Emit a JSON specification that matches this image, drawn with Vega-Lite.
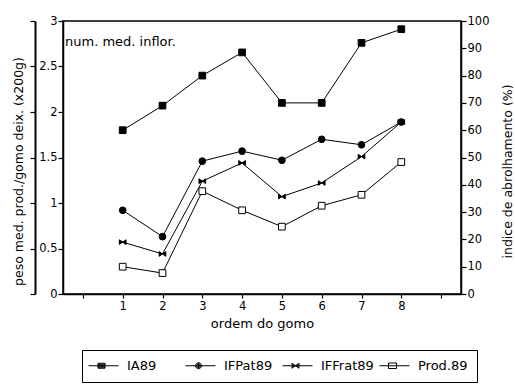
{
  "$schema": "https://vega.github.io/schema/vega-lite/v6.json",
  "width": 398,
  "height": 273,
  "autosize": {"type": "none"},
  "padding": {"left": 63, "top": 21, "right": 54, "bottom": 91},
  "background": "white",
  "config": {
    "view": {"stroke": "black", "strokeWidth": 1.5},
    "font": "DejaVu Sans",
    "axis": {
      "grid": false,
      "domainColor": "black",
      "domainWidth": 1.5,
      "tickColor": "black",
      "tickWidth": 1.2,
      "labelColor": "black",
      "labelFont": "DejaVu Sans",
      "labelFontSize": 11.5,
      "titleFont": "DejaVu Sans",
      "titleFontSize": 12.5,
      "titleFontWeight": "normal",
      "titleColor": "black"
    }
  },
  "data": {
    "values": [
      {"g": 1, "s": "IA89", "v": 60},
      {"g": 2, "s": "IA89", "v": 69},
      {"g": 3, "s": "IA89", "v": 80},
      {"g": 4, "s": "IA89", "v": 88.5},
      {"g": 5, "s": "IA89", "v": 70},
      {"g": 6, "s": "IA89", "v": 70},
      {"g": 7, "s": "IA89", "v": 92},
      {"g": 8, "s": "IA89", "v": 97},
      {"g": 1, "s": "IFPat89", "v": 0.92},
      {"g": 2, "s": "IFPat89", "v": 0.63},
      {"g": 3, "s": "IFPat89", "v": 1.46},
      {"g": 4, "s": "IFPat89", "v": 1.57},
      {"g": 5, "s": "IFPat89", "v": 1.47},
      {"g": 6, "s": "IFPat89", "v": 1.70},
      {"g": 7, "s": "IFPat89", "v": 1.64},
      {"g": 8, "s": "IFPat89", "v": 1.89},
      {"g": 1, "s": "IFFrat89", "v": 0.57},
      {"g": 2, "s": "IFFrat89", "v": 0.44},
      {"g": 3, "s": "IFFrat89", "v": 1.24},
      {"g": 4, "s": "IFFrat89", "v": 1.44},
      {"g": 5, "s": "IFFrat89", "v": 1.07},
      {"g": 6, "s": "IFFrat89", "v": 1.22},
      {"g": 7, "s": "IFFrat89", "v": 1.51},
      {"g": 8, "s": "IFFrat89", "v": 1.89},
      {"g": 1, "s": "Prod.89", "v": 0.30},
      {"g": 2, "s": "Prod.89", "v": 0.23},
      {"g": 3, "s": "Prod.89", "v": 1.13},
      {"g": 4, "s": "Prod.89", "v": 0.92},
      {"g": 5, "s": "Prod.89", "v": 0.74},
      {"g": 6, "s": "Prod.89", "v": 0.97},
      {"g": 7, "s": "Prod.89", "v": 1.09},
      {"g": 8, "s": "Prod.89", "v": 1.45}
    ]
  },
  "layer": [
    {
      "encoding": {
        "x": {
          "field": "g", "type": "quantitative",
          "scale": {"domain": [-0.5, 9.5], "nice": false, "zero": false},
          "axis": {
            "values": [0, 1, 2, 3, 4, 5, 6, 7, 8, 9],
            "labelExpr": "datum.value >= 1 && datum.value <= 8 ? datum.label : ''",
            "tickSize": 4, "labelPadding": 2, "title": "ordem do gomo", "titlePadding": 6, "titleFontSize": 13
          }
        },
        "y": {
          "field": "v", "type": "quantitative",
          "scale": {"domain": [0, 3], "nice": false},
          "axis": {
            "orient": "left",
            "values": [0, 0.5, 1, 1.5, 2, 2.5, 3],
            "format": "~g",
            "tickSize": 5, "labelPadding": 1,
            "title": "peso med. prod./gomo deix. (x200g)",
            "titleX": -45, "titleY": 150, "titleAngle": -90,
            "titleAlign": "center", "titleBaseline": "middle"
          }
        }
      },
      "layer": [
        {
          "transform": [{"filter": "datum.s !== 'IA89'"}],
          "mark": {"type": "line", "color": "black", "strokeWidth": 1},
          "encoding": {"detail": {"field": "s"}}
        },
        {
          "transform": [{"filter": "datum.s !== 'IA89'"}],
          "mark": {"type": "point", "filled": true, "stroke": "black", "strokeWidth": 1, "size": 45, "opacity": 1},
          "encoding": {
            "shape": {
              "field": "s",
              "scale": {"domain": ["IFPat89", "IFFrat89", "Prod.89"], "range": ["circle", "M-1,-0.7L1,0.7L1,-0.7L-1,0.7Z", "square"]},
              "legend": null
            },
            "fill": {
              "field": "s",
              "scale": {"domain": ["IFPat89", "IFFrat89", "Prod.89"], "range": ["black", "black", "white"]},
              "legend": null
            }
          }
        },
        {
          "data": {"values": [{"g": -0.5, "v": 2.77, "t": "num. med. inflor."}]},
          "mark": {"type": "text", "align": "left", "baseline": "middle", "dx": 2, "fontSize": 13, "font": "DejaVu Sans", "color": "black"},
          "encoding": {"text": {"field": "t"}}
        }
      ]
    },
    {
      "transform": [{"filter": "datum.s === 'IA89'"}],
      "encoding": {
        "x": {
          "field": "g", "type": "quantitative",
          "scale": {"domain": [-0.5, 9.5], "nice": false, "zero": false},
          "axis": {
            "values": [0, 1, 2, 3, 4, 5, 6, 7, 8, 9],
            "labelExpr": "datum.value >= 1 && datum.value <= 8 ? datum.label : ''",
            "tickSize": 4, "labelPadding": 2, "title": "ordem do gomo", "titlePadding": 6, "titleFontSize": 13
          }
        },
        "y": {
          "field": "v", "type": "quantitative",
          "scale": {"domain": [0, 100], "nice": false},
          "axis": {
            "orient": "right",
            "values": [0, 10, 20, 30, 40, 50, 60, 70, 80, 90, 100],
            "tickSize": 5, "labelPadding": 1,
            "title": "indice de abrolhamento (%)",
            "titleX": 46, "titleY": 150, "titleAngle": -90,
            "titleAlign": "center", "titleBaseline": "middle"
          }
        }
      },
      "layer": [
        {
          "mark": {"type": "line", "color": "black", "strokeWidth": 1},
          "encoding": {}
        },
        {
          "mark": {"type": "point", "shape": "square", "filled": true, "fill": "black", "stroke": "black", "strokeWidth": 1, "size": 45, "opacity": 1},
          "encoding": {}
        }
      ]
    },
    {
      "mark": {"type": "point", "opacity": 0, "clip": true, "filled": false, "color": "black", "strokeWidth": 1},
      "encoding": {
        "x": {
          "field": "g", "type": "quantitative",
          "scale": {"domain": [-0.5, 9.5], "nice": false, "zero": false},
          "axis": {
            "values": [0, 1, 2, 3, 4, 5, 6, 7, 8, 9],
            "labelExpr": "datum.value >= 1 && datum.value <= 8 ? datum.label : ''",
            "tickSize": 4, "labelPadding": 2, "title": "ordem do gomo", "titlePadding": 6, "titleFontSize": 13
          }
        },
        "y": {
          "field": "v", "type": "quantitative",
          "scale": {"domain": [0, 3], "nice": false},
          "axis": {
            "orient": "left", "offset": 28,
            "values": [0, 0.5, 1, 1.5, 2, 2.5, 3],
            "labels": false, "title": null, "tickSize": 5, "domainWidth": 2
          }
        },
        "shape": {
          "field": "s",
          "scale": {
            "domain": ["IA89", "IFPat89", "IFFrat89", "Prod.89"],
            "range": [
              "M-1.8,0H4.2M0.1,-0.5H1.5V0.5H0.1ZM0.1,-0.3H1.5M0.1,-0.1H1.5M0.1,0.1H1.5M0.1,0.3H1.5",
              "M-1.8,0H4.2M0.2,0A0.6,0.6 0 1,0 1.4,0A0.6,0.6 0 1,0 0.2,0ZM0.4,0A0.4,0.4 0 1,0 1.2,0A0.4,0.4 0 1,0 0.4,0ZM0.6,0A0.2,0.2 0 1,0 1,0A0.2,0.2 0 1,0 0.6,0ZM0.8,-0.6V0.6",
              "M-1.8,0H4.2M0.1,-0.5L1.5,0.5V-0.5L0.1,0.5ZM0.3,-0.3V0.3M1.3,-0.3V0.3M0.5,-0.15V0.15M1.1,-0.15V0.15",
              "M-1.8,0H4.2M0,-0.55H1.6V0.55H0Z"
            ]
          },
          "legend": {
            "title": null,
            "orient": "none",
            "legendX": 19,
            "legendY": 329,
            "direction": "horizontal",
            "columns": 4,
            "gridAlign": "all",
            "columnPadding": 3,
            "padding": 9,
            "strokeColor": "black",
            "symbolSize": 100,
            "symbolStrokeColor": "black",
            "symbolStrokeWidth": 1,
            "symbolOpacity": 1,
            "labelFont": "DejaVu Sans",
            "labelFontSize": 13,
            "labelColor": "black",
            "labelOffset": 23
          }
        }
      }
    }
  ],
  "resolve": {"scale": {"y": "independent", "shape": "independent", "fill": "independent"}}
}
